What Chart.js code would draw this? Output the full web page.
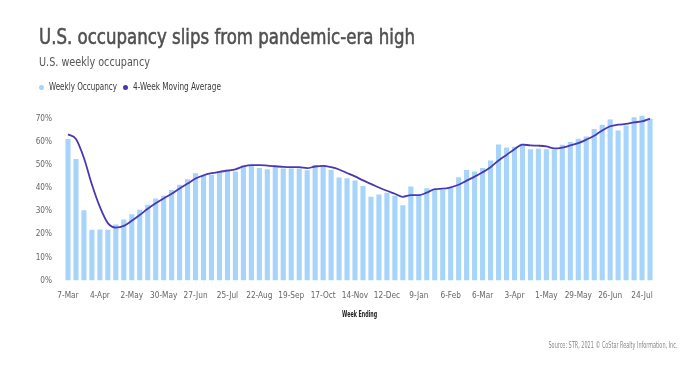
<!DOCTYPE html>
<html><head><meta charset="utf-8">
<script src="https://cdn.jsdelivr.net/npm/chart.js@4.4.0/dist/chart.umd.min.js"></script>
<style>
html,body{margin:0;padding:0;background:#fff;width:700px;height:366px;overflow:hidden}
body{position:relative}
#c{position:absolute;left:0;top:0}
.t{position:absolute;white-space:nowrap;transform-origin:0 0}
#title{left:39px;top:26.4px;font-size:22px;line-height:22px;color:#505050;font-weight:normal;-webkit-text-stroke:0.55px #505050}
#sub{left:39px;top:54.5px;font-size:13px;line-height:13px;color:#555}
.lg{top:82.2px;font-size:10px;line-height:10px;color:#3a3a3a}
.dot{position:absolute;width:5px;height:5px;border-radius:50%}
#xt{top:310.4px;font-size:9px;line-height:9px;color:#222;font-weight:bold}
#src{top:342.2px;font-size:8px;line-height:8px;color:#888}
</style></head>
<body>
<canvas id="c" width="700" height="366"></canvas>
<div class="t" id="title">U.S. occupancy slips from pandemic-era high</div>
<div class="t" id="sub">U.S. weekly occupancy</div>
<div class="dot" style="left:39.2px;top:84.8px;background:#a6d4fa"></div>
<div class="t lg" id="lg1" style="left:49.3px">Weekly Occupancy</div>
<div class="dot" style="left:123.2px;top:84.8px;background:#4a38b0"></div>
<div class="t lg" id="lg2" style="left:133.3px">4-Week Moving Average</div>
<div class="t" id="xt">Week Ending</div>
<div class="t" id="src">Source: STR, 2021 © CoStar Realty Information, Inc.</div>
<script>
const weeks = ["7-Mar","14-Mar","21-Mar","28-Mar","4-Apr","11-Apr","18-Apr","25-Apr","2-May","9-May","16-May","23-May","30-May","6-Jun","13-Jun","20-Jun","27-Jun","4-Jul","11-Jul","18-Jul","25-Jul","1-Aug","8-Aug","15-Aug","22-Aug","29-Aug","5-Sep","12-Sep","19-Sep","26-Sep","3-Oct","10-Oct","17-Oct","24-Oct","31-Oct","7-Nov","14-Nov","21-Nov","28-Nov","5-Dec","12-Dec","19-Dec","26-Dec","2-Jan","9-Jan","16-Jan","23-Jan","30-Jan","6-Feb","13-Feb","20-Feb","27-Feb","6-Mar","13-Mar","20-Mar","27-Mar","3-Apr","10-Apr","17-Apr","24-Apr","1-May","8-May","15-May","22-May","29-May","5-Jun","12-Jun","19-Jun","26-Jun","3-Jul","10-Jul","17-Jul","24-Jul","31-Jul"];
const tickLabels = ["7-Mar","4-Apr","2-May","30-May","27-Jun","25-Jul","22-Aug","19-Sep","17-Oct","14-Nov","12-Dec","9-Jan","6-Feb","6-Mar","3-Apr","1-May","29-May","26-Jun","24-Jul"];
const weeklyOccupancy = [61.2,52.5,30.4,22.0,22.1,22.0,24.2,26.4,28.7,30.6,32.8,35.5,36.7,39.1,41.4,43.8,46.4,45.3,45.7,47.4,48.1,47.1,49.7,49.7,48.7,48.1,49.0,48.4,48.4,48.4,47.7,50.0,50.0,47.8,44.5,44.2,43.2,40.9,36.2,37.2,38.0,36.6,32.5,40.6,37.0,39.9,39.1,39.1,40.1,44.6,47.8,47.1,48.6,51.9,58.8,57.5,57.8,59.1,56.8,57.0,56.8,56.6,58.7,59.9,61.3,62.3,65.5,67.4,69.6,64.9,67.0,70.6,71.2,69.9];
const movingAverage = [63.2,61.2,53.0,41.5,31.8,24.8,22.9,23.6,25.8,28.3,31.0,33.4,35.5,37.5,39.8,41.9,44.1,45.5,46.4,47.0,47.5,48.1,49.3,49.9,49.9,49.7,49.4,49.1,49.0,49.0,48.6,49.3,49.6,49.0,48.0,46.5,45.0,43.3,41.8,40.2,38.8,37.5,36.2,36.9,36.9,38.0,39.5,39.7,40.3,41.4,43.2,44.9,46.8,49.0,51.9,54.3,56.8,58.8,58.4,58.3,58.0,57.1,57.5,58.4,59.4,60.9,62.6,64.9,66.7,67.4,67.7,68.4,68.8,70.0];
const yTicks = [0,10,20,30,40,50,60,70];

function hasFont(name){
  const c = document.createElement('canvas').getContext('2d');
  const s = 'Week Ending 7-Mar 70% occupancy';
  let r = false;
  ['monospace','serif'].forEach(function(fb){
    c.font = '40px ' + fb; const a = c.measureText(s).width;
    c.font = '40px "' + name + '", ' + fb; const b = c.measureText(s).width;
    if (Math.abs(a-b) > 0.5) r = true;
  });
  return r;
}
const candidates = ["Liberation Sans Narrow","Arial Narrow","DejaVu Sans Condensed","Roboto Condensed","Open Sans Condensed","Roboto","Liberation Sans"];
let fam = 'sans-serif';
for (const f of candidates) { if (hasFont(f)) { fam = '"' + f + '"'; break; } }
const FONT = fam + ', sans-serif';
document.body.style.fontFamily = FONT;

function fit(id, target){
  const el = document.getElementById(id);
  const w = el.getBoundingClientRect().width;
  el.style.transformOrigin = '0 0';
  el.style.transform = 'scaleX(' + (target / w) + ')';
}
function place(id, centerX, target){
  const el = document.getElementById(id);
  const w = el.getBoundingClientRect().width;
  el.style.left = (centerX - w/2) + 'px';
  el.style.transformOrigin = '50% 0';
  el.style.transform = 'scaleX(' + (target / w) + ')';
}
fit('title', 376); fit('sub', 111); fit('lg1', 68); fit('lg2', 88);
place('xt', 360, 35);
(function(){
  const el = document.getElementById('src');
  const w = el.getBoundingClientRect().width;
  el.style.left = (677 - w) + 'px';
  el.style.transformOrigin = '100% 0';
  el.style.transform = 'scaleX(' + (129 / w) + ')';
})();

const mc = document.createElement('canvas').getContext('2d');
mc.font = '9px ' + FONT;
const w30 = mc.measureText('30-May').width;
const tickSize = Math.max(8.2, Math.min(9, 9 * 23.5 / w30));

new Chart(document.getElementById('c'), {
  data: {
    labels: weeks,
    datasets: [
      {type:'line', label:'4-Week Moving Average', data: movingAverage, borderColor:'#4a38b0', borderWidth:1.8,
       pointRadius:0, cubicInterpolationMode:'monotone', fill:false, order:0, clip:false},
      {type:'bar', label:'Weekly Occupancy', data: weeklyOccupancy, backgroundColor:'#a6d4fa',
       barPercentage:0.64, categoryPercentage:1.0, order:1}
    ]
  },
  options: {
    responsive:false, animation:false, devicePixelRatio:1,
    layout:{padding:{top:114, right:46, bottom:52, left:0}},
    plugins:{legend:{display:false}, tooltip:{enabled:false}},
    scales:{
      x:{
        grid:{display:false, drawTicks:false}, border:{display:false},
        ticks:{autoSkip:false, maxRotation:0, padding:10, color:'#666', font:{family:FONT, size:tickSize},
          callback:function(v,i){ const l = weeks[i]; return tickLabels.includes(l) ? l : ''; }},
        afterFit:function(s){ s.height = 33.5; }
      },
      y:{
        min:0, max:72,
        grid:{display:false, drawTicks:false}, border:{display:false},
        afterBuildTicks:function(s){ s.ticks = yTicks.map(v=>({value:v})); },
        ticks:{padding:12, color:'#666', font:{family:FONT, size:tickSize}, callback:v=>v+'%'},
        afterFit:function(s){ s.width = 64; }
      }
    }
  }
});
</script>
</body></html>
